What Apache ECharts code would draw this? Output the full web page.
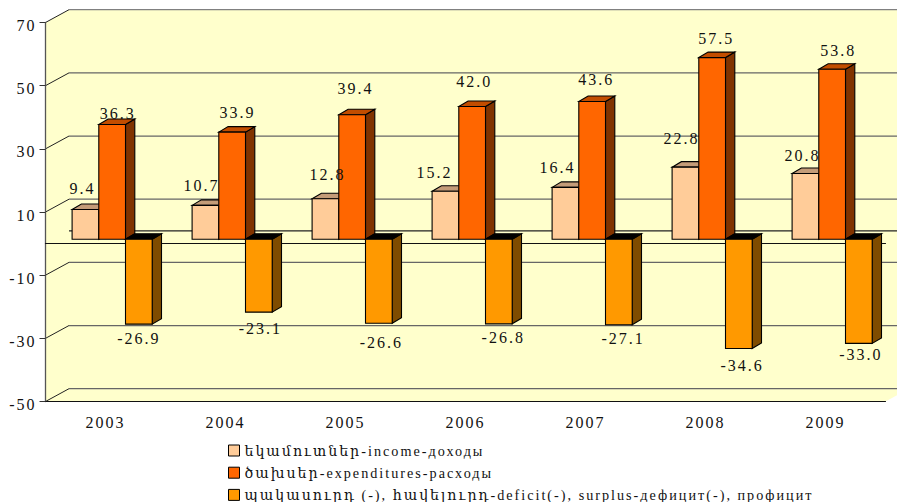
<!DOCTYPE html>
<html><head><meta charset="utf-8">
<style>
html,body{margin:0;padding:0;background:#fff}
#c{width:897px;height:502px}
svg text{letter-spacing:2px}
</style>
<script src="https://cdn.jsdelivr.net/npm/echarts@6/dist/echarts.min.js"></script>
</head><body><div id="c"></div>
<script>
const years = ['2003','2004','2005','2006','2007','2008','2009'];
const income = [9.4,10.7,12.8,15.2,16.4,22.8,20.8];
const expenditures = [36.3,33.9,39.4,42.0,43.6,57.5,53.8];
const balance = [-26.9,-23.1,-26.6,-26.8,-27.1,-34.6,-33.0];
const seriesNames = ['եկամուտներ-income-доходы','ծախսեր-expenditures-расходы','պակասուրդ (-), հավելուրդ-deficit(-), surplus-дефицит(-), профицит'];
const wallLines = [-50,-30,-10,0,10,30,50,70];

const FONT = "'Liberation Serif','DejaVu Serif','DejaVu Sans',serif";
const wallDepth = [23.5,-12.8];
const barDepth = [9.3,-5.5];
const barLift = -4.4;
const barShare = 0.2225;
const groupStart = -33.4;
const faces = [
  {front:'#FFCC99',side:'#7F6650',cap:'#C49C78'},
  {front:'#FF6600',side:'#803300',cap:'#C24D00'},
  {front:'#FF9900',side:'#7F4C00',cap:'#000000'}
];
// data-label nudges relative to the bar end, one per year
const labelDx = [[-3,-4,2,-11,-8,-4,-3],[5.5,5.4,3.3,2.2,4,4,6],[0,1.6,2.5,4.4,4.3,3.2,2]];
const labelDy = [[-21,-20,-24.6,-19,-20,-29,-18],[-11,-20,-26.5,-25,-22,-19,-19],[14,16,19,14,13.4,16.7,10.7]];

function wallItem(params, api){
  const v = api.value(0), cs = params.coordSys;
  const y = api.coord([0,v])[1];
  const L = cs.x, R = cs.x+cs.width, T = cs.y, B = cs.y+cs.height;
  const dx = wallDepth[0], dy = wallDepth[1];
  const kids = [];
  if(params.dataIndex===0){
    kids.push({type:'polygon',shape:{points:[[L,T],[L+dx,T+dy],[R+dx,T+dy],[R+dx,B+dy],[R,B],[L,B]]},
      style:{fill:'#FFFFCC',stroke:null}});
  }
  kids.push({type:'line',shape:{x1:L+dx,y1:y+dy,x2:R+dx,y2:y+dy},
    style:{stroke:v===70?'#808080':(v===0?'#222':'#666'),lineWidth:1.3,fill:null}});
  if(v!==0){
    kids.push({type:'line',shape:{x1:L,y1:y,x2:L+dx,y2:y+dy},style:{stroke:'#222',lineWidth:1,fill:null}});
  }
  return {type:'group',children:kids};
}

function barRenderer(k){
  return function(params, api){
    const i = api.value(0), v = api.value(1);
    const c = api.coord([i,0]);
    const end = api.coord([i,v]);
    const w = api.size([1,0])[0]*barShare;
    const x0 = c[0]+groupStart+k*w, x1 = x0+w;
    const yb = c[1]+barLift, ye = end[1]+barLift;
    const top = Math.min(yb,ye), bot = Math.max(yb,ye);
    const dx = barDepth[0], dy = barDepth[1];
    const f = faces[k];
    const edge = {stroke:'#000',lineWidth:1.1};
    const layer = (k+1)*10;
    return {type:'group',children:[
      {type:'polygon',z2:layer,shape:{points:[[x1,top],[x1+dx,top+dy],[x1+dx,bot+dy],[x1,bot]]},style:Object.assign({fill:f.side},edge)},
      {type:'polygon',z2:layer+1,shape:{points:[[x0,top],[x0+dx,top+dy],[x1+dx,top+dy],[x1,top]]},style:Object.assign({fill:f.cap},edge)},
      {type:'rect',z2:layer+2,shape:{x:x0,y:top,width:w,height:bot-top},style:Object.assign({fill:f.front},edge)},
      {type:'text',z2:100,style:{text:v.toFixed(1),x:(x0+x1)/2+labelDx[k][i],y:ye+labelDy[k][i],
        fill:'#111',fontSize:16,fontFamily:FONT,align:'center',verticalAlign:'middle'}}
    ]};
  };
}

function barSeries(k,vals){
  return {name:seriesNames[k],type:'custom',xAxisIndex:0,yAxisIndex:0,z:3,
    itemStyle:{color:faces[k].front},
    renderItem:barRenderer(k),clip:false,
    data:vals.map((v,i)=>[i,v]),encode:{x:0,y:1}};
}

const chart = echarts.init(document.getElementById('c'),null,{renderer:'svg',width:897,height:502});
chart.setOption({
  animation:false,
  backgroundColor:'#fff',
  textStyle:{fontFamily:FONT},
  grid:{left:45.5,top:22.5,width:840,height:379,containLabel:false},
  legend:{data:seriesNames,orient:'vertical',left:228,top:443.5,height:120,width:660,padding:0,itemWidth:11,itemHeight:11,itemGap:8.2,
    icon:'rect',selectedMode:false,
    itemStyle:{borderColor:'#000',borderWidth:1},
    textStyle:{fontFamily:FONT,fontSize:14.2,color:'#111',lineHeight:11}},
  xAxis:[
    {type:'category',data:years,position:'bottom',boundaryGap:true,z:1,
     axisLine:{onZero:false,lineStyle:{color:'#111',width:1.2}},
     axisTick:{length:6,lineStyle:{color:'#333'}},
     axisLabel:{fontSize:16,color:'#111',margin:13,fontFamily:FONT,interval:0},splitLine:{show:false}},
    {type:'category',data:years,position:'bottom',boundaryGap:true,z:1,
     axisLine:{onZero:true,lineStyle:{color:'#111',width:1.2}},
     axisTick:{length:5,lineStyle:{color:'#333'}},
     axisLabel:{show:false},splitLine:{show:false}}
  ],
  yAxis:{type:'value',min:-50,max:70,interval:20,z:1,
    axisLine:{show:true,onZero:false,lineStyle:{color:'#555',width:1.3}},
    axisTick:{show:true,length:6,lineStyle:{color:'#333'}},
    axisLabel:{fontSize:16,color:'#111',margin:9,fontFamily:FONT,verticalAlign:'top',lineHeight:6},
    splitLine:{show:false}},
  series:[
    {type:'custom',z:-1,silent:true,clip:false,renderItem:wallItem,data:wallLines.map(v=>[v]),encode:{y:0}},
    barSeries(0,income),barSeries(1,expenditures),barSeries(2,balance)
  ]
});
</script></body></html>
